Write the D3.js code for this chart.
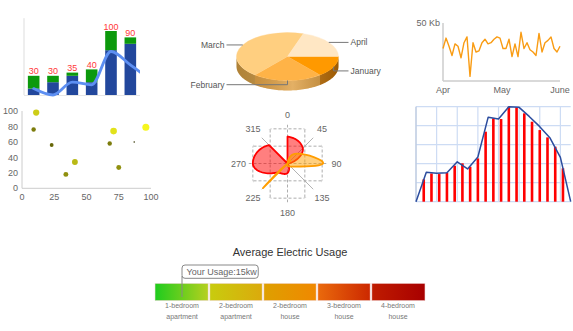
<!DOCTYPE html>
<html><head><meta charset="utf-8">
<script src="https://cdn.jsdelivr.net/npm/d3@7"></script>
<style>
html,body{margin:0;padding:0;background:#fff;}
svg{display:block;font-family:"Liberation Sans",Arial,Helvetica,sans-serif;}
</style></head><body>
<svg id="c" width="573" height="331"></svg>
<script>
// ================= DATA =================
// 1. stacked bars + line
const barCats = ["C1","C2","C3","C4","C5","C6"];
const barBlue = [10,20,30,20,70,80];
const barGreen = [20,10,5,20,30,10];
const barLineCats = ["C1","C2","C3","C4","C5","C6","C7"];
const barLine = [10,0,20,16,68,47,25];

// 2. 3D pie
const pieLabels = ["January","February","March","April"];
const pieValues = [14,22,44,20];
const pieColors = ["#ff9900","#ffb347","#ffcf80","#ffe7c4"];
const pieSideColors = ["#c06e02","#dc9a3a","#c8943e","#dcc08e"];

// 3. Kb line
const kbValues = [28,37,30,22,32,30,20,33,38,4,33,25,26,33,36,32,33,36,38,37,28,28,36,21,32,21,42,28,33,27,25,22,41,25,33,35,38,28,25,30];
const kbTickLabels = ["Apr","May","June"];
const kbTickIdx = [0,19.7,39];
const kbYTicks = [50];

// 4. bubble scatter
const scX = [11,9,23,34,41,68,71,75,87,96];
const scY = [98,76,56,18,34,58,74,27,60,79];
const scZ = [8,4,3,5,7,4,9,5,0.5,10];
const scTicksX = [0,25,50,75,100];
const scTicksY = [0,20,40,60,80,100];

// 5. polar
const polarAngles = [0,45,90,135,180,225,270,315];
const polarRed = [31,25,0,0,11,15,40,30];
const polarOrange = [0,16,41,5,0,40,0,0];
const polarGrid = [-40,-20,0,20,40];

// 6. line + thin bars
const areaX = [0,1,2,3,4,5,6,7,8,9,10,11,12,13,14,15];
const areaLine = [0,31,30,30.5,42,34.5,47,89,87,100,99.3,89.5,79,67,46.7,0];
const thinX = [0.75,1.5,2.25,3,3.75,4.5,5.25,6,6.75,7.5,8.25,9,9.75,10.5,11.25,12,12.75,13.5,14.25];
const thinV = [23.5,29.8,29.1,30.5,37.9,40.4,36.8,45.6,73.7,87.7,87,100,99.3,93,84.2,75.4,67.7,57.9,35.1];
const areaGridX = [0,2,4,6,8,10,12,14];
const areaGridY = [0,20,40,60,80,100];

// 7. gauge
const gaugeTitle = "Average Electric Usage";
const gaugeBounds = [0,30,60,90,120,150];
const gaugeLabels1 = ["1-bedroom","2-bedroom","2-bedroom","3-bedroom","4-bedroom"];
const gaugeLabels2 = ["apartment","apartment","house","house","house"];
const gaugeGrad = [["#1ecc1e","#b6d01e"],["#c8cc0e","#dbaa0c"],["#dea000","#f08800"],["#ea6a0c","#cc2800"],["#bf1c00","#a80000"]];
const usage = 15;

// ================= DRAW =================
const svg = d3.select("#c");
const defs = svg.append("defs");
const TXT = "#666";

// ---------- 1. stacked bar ----------
(function(){
  const g = svg.append("g");
  const x = d3.scaleBand().domain(barCats).range([24,140]).paddingInner(0.4).paddingOuter(0.2);
  const y = d3.scaleLinear().domain([0,120]).range([95,18.2]);
  g.append("line").attr("x1",x.range()[0]).attr("x2",x.range()[0]).attr("y1",y(120)).attr("y2",y(0)).attr("stroke","#ddd");
  g.append("line").attr("x1",x.range()[0]).attr("x2",x.range()[1]).attr("y1",y(0)+0.5).attr("y2",y(0)+0.5).attr("stroke","#e6e6e6");
  barCats.forEach((c,i)=>{
    g.append("rect").attr("x",x(c)).attr("width",x.bandwidth()).attr("y",y(barBlue[i])).attr("height",y(0)-y(barBlue[i])).attr("fill","#22479c");
    g.append("rect").attr("x",x(c)).attr("width",x.bandwidth()).attr("y",y(barBlue[i]+barGreen[i])).attr("height",y(barBlue[i])-y(barBlue[i]+barGreen[i])).attr("fill","#0c990c");
    g.append("text").attr("x",x(c)+x.bandwidth()/2).attr("y",y(barBlue[i]+barGreen[i])-1.5)
      .attr("text-anchor","middle").attr("font-size",9).attr("fill","#ff3838").text(barBlue[i]+barGreen[i]);
  });
  defs.append("clipPath").attr("id","clip1").append("rect").attr("x",x.range()[0]).attr("y",0).attr("width",x.range()[1]-x.range()[0]).attr("height",y(0)+3);
  const c0 = x(barCats[0])+x.bandwidth()/2;
  const xp = d3.scalePoint().domain(barLineCats).range([c0, c0+x.step()*(barLineCats.length-1)]);
  g.append("path").attr("clip-path","url(#clip1)")
    .attr("d", d3.line().x((d,i)=>xp(barLineCats[i])).y(d=>y(d)).curve(d3.curveMonotoneX)(barLine))
    .attr("fill","none").attr("stroke","#5d8ff2").attr("stroke-width",2.8).attr("stroke-linecap","round");
})();

// ---------- 2. 3D pie ----------
(function(){
  const cx=287.5, cy=56.5, rx=51, ry=24, depth=10;
  const pie = d3.pie().sort(null).startAngle(Math.PI/2).endAngle(Math.PI/2+2*Math.PI);
  const arcs = pie(pieValues);
  const pt = (a,dy=0)=>[cx+rx*Math.sin(a), cy-ry*Math.cos(a)+dy];
  const sh = defs.append("linearGradient").attr("id","pieShade").attr("gradientUnits","userSpaceOnUse")
    .attr("x1",cx-rx).attr("x2",cx+rx).attr("y1",0).attr("y2",0);
  sh.append("stop").attr("offset",0).attr("stop-color","#000").attr("stop-opacity",0.12);
  sh.append("stop").attr("offset",0.55).attr("stop-color","#fff").attr("stop-opacity",0.22);
  sh.append("stop").attr("offset",1).attr("stop-color","#000").attr("stop-opacity",0.18);
  const g = svg.append("g");
  arcs.forEach((a,i)=>{
    const s=Math.max(a.startAngle,Math.PI/2), e=Math.min(a.endAngle,3*Math.PI/2);
    if(s>=e) return;
    const n=40, top=[], bot=[];
    for(let k=0;k<=n;k++){const t=s+(e-s)*k/n; top.push(pt(t)); bot.push(pt(t,depth));}
    const d = d3.line()(top.concat(bot.reverse()))+"Z";
    g.append("path").attr("d",d).attr("fill",pieSideColors[i]);
    g.append("path").attr("d",d).attr("fill","url(#pieShade)");
  });
  const arc = d3.arc().innerRadius(0).outerRadius(rx);
  const tg = g.append("g").attr("transform",`translate(${cx},${cy}) scale(1,${ry/rx})`);
  arcs.forEach((a,i)=>{
    tg.append("path").attr("d",arc(a)).attr("fill",pieColors[i]).attr("stroke",pieColors[i]).attr("stroke-width",0.5);
  });
  arcs.forEach((a,i)=>{
    const m=(a.startAngle+a.endAngle)/2;
    const [px,py]=pt(m);
    const right = Math.sin(m)>0;
    const ly = py + (Math.cos(m)<0 ? depth*0.42 : 0);
    const lx = right ? cx+rx+12 : cx-rx-12;
    g.append("path").attr("d",d3.line()([[px,py],[px,ly],[right?lx-2:lx+2,ly]]))
      .attr("fill","none").attr("stroke","#777").attr("stroke-width",1);
    g.append("text").attr("x",lx).attr("y",ly).attr("dy","0.35em").attr("text-anchor",right?"start":"end")
      .attr("font-size",8.5).attr("fill","#555").text(pieLabels[i]);
  });
})();

// ---------- 3. Kb line ----------
(function(){
  const g=svg.append("g");
  const x=d3.scaleLinear().domain([0,kbValues.length-1]).range([443,560]);
  const y=d3.scaleLinear().domain([0,50]).range([81,23]);
  g.append("line").attr("x1",x(0)).attr("x2",x(0)).attr("y1",y(50)).attr("y2",y(0)).attr("stroke","#ccc").attr("stroke-width",1.5);
  g.append("line").attr("x1",x(0)).attr("x2",x(kbValues.length-1)).attr("y1",y(0)).attr("y2",y(0)).attr("stroke","#ccc").attr("stroke-width",1.5);
  kbYTicks.forEach(t=>g.append("text").attr("x",x(0)-3).attr("y",y(t)).attr("dy","0.3em").attr("text-anchor","end")
     .attr("font-size",9).attr("fill",TXT).text(t+" Kb"));
  kbTickLabels.forEach((t,i)=>g.append("text").attr("x",x(kbTickIdx[i])).attr("y",y(0)+12).attr("text-anchor","middle")
     .attr("font-size",9).attr("fill",TXT).text(t));
  g.append("path").attr("d",d3.line().x((d,i)=>x(i)).y(d=>y(d))(kbValues))
    .attr("fill","none").attr("stroke","#f99c14").attr("stroke-width",1.4).attr("stroke-linejoin","round");
})();

// ---------- 4. bubble scatter ----------
(function(){
  const g=svg.append("g");
  const x=d3.scaleLinear().domain([0,100]).range([22,151]);
  const y=d3.scaleLinear().domain([0,100]).range([188.3,111]);
  const r=d3.scaleSqrt().domain([0,10]).range([0,3.5]);
  const col=d3.scaleLinear().domain([0,10]).range(["#2a2a00","#f6f61e"]);
  g.append("line").attr("x1",x(0)).attr("x2",x(0)).attr("y1",y(100)).attr("y2",y(0)).attr("stroke","#ccc");
  g.append("line").attr("x1",x(0)).attr("x2",x(100)).attr("y1",y(0)).attr("y2",y(0)).attr("stroke","#ccc");
  scTicksY.forEach(t=>g.append("text").attr("x",x(0)-4).attr("y",y(t)).attr("dy","0.35em").attr("text-anchor","end")
     .attr("font-size",9).attr("fill",TXT).text(t));
  scTicksX.forEach(t=>g.append("text").attr("x",x(t)).attr("y",y(0)+11.5).attr("text-anchor","middle")
     .attr("font-size",9).attr("fill",TXT).text(t));
  scX.forEach((v,i)=>g.append("circle").attr("cx",x(v)).attr("cy",y(scY[i])).attr("r",r(scZ[i])).attr("fill",col(scZ[i])));
})();

// ---------- 5. polar ----------
(function(){
  const cx=287.5, cy=163.5;
  const r=d3.scaleLinear().domain([0,45]).range([0,39]);
  const g=svg.append("g").attr("transform",`translate(${cx},${cy})`);
  defs.append("clipPath").attr("id","clipP").append("circle").attr("cx",0).attr("cy",0).attr("r",r(45));
  const gg=g.append("g").attr("clip-path","url(#clipP)");
  polarGrid.forEach(v=>{
    gg.append("line").attr("x1",r(v)).attr("x2",r(v)).attr("y1",-r(45)).attr("y2",r(45))
      .attr("stroke","#999").attr("stroke-dasharray","3,2").attr("stroke-width",0.8);
    gg.append("line").attr("y1",r(v)).attr("y2",r(v)).attr("x1",-r(45)).attr("x2",r(45))
      .attr("stroke","#999").attr("stroke-dasharray","3,2").attr("stroke-width",0.8);
  });
  [45,135,225,315].forEach(a=>{
    const t=a*Math.PI/180;
    g.append("line").attr("x1",0).attr("y1",0).attr("x2",r(42)*Math.sin(t)).attr("y2",-r(42)*Math.cos(t))
      .attr("stroke","#aaa").attr("stroke-width",0.9);
  });
  function monoSlopes(xs, ys){
    const n=xs.length, h=[], s=[], m=new Array(n);
    for(let i=0;i<n-1;i++){h[i]=xs[i+1]-xs[i]; s[i]=(ys[i+1]-ys[i])/h[i];}
    for(let i=1;i<n-1;i++){
      const p=(s[i-1]*h[i]+s[i]*h[i-1])/(h[i-1]+h[i]);
      m[i]=(Math.sign(s[i-1])+Math.sign(s[i]))*Math.min(Math.abs(s[i-1]),Math.abs(s[i]),0.5*Math.abs(p))||0;
    }
    m[0]=(3*s[0]-m[1])/2; m[n-1]=(3*s[n-2]-m[n-2])/2;
    return {h,m};
  }
  function polarSmoothPath(vals){
    const xs=polarAngles, ys=vals.map(v=>r(v));
    const {h,m}=monoSlopes(xs,ys);
    const pts=[[0,0]];
    for(let i=0;i<xs.length-1;i++){
      for(let k=0;k<(i===xs.length-2?25:24);k++){
        const t=k/24, t2=t*t, t3=t2*t;
        const rr=Math.max(0,(2*t3-3*t2+1)*ys[i]+(t3-2*t2+t)*h[i]*m[i]+(-2*t3+3*t2)*ys[i+1]+(t3-t2)*h[i]*m[i+1]);
        const a=(xs[i]+t*h[i])*Math.PI/180;
        pts.push([rr*Math.sin(a),-rr*Math.cos(a)]);
      }
    }
    return d3.line()(pts)+"Z";
  }
  g.append("path").attr("d",polarSmoothPath(polarRed)).attr("fill","rgba(255,0,0,0.5)").attr("stroke","#ff0000").attr("stroke-width",1.8).attr("stroke-linejoin","round");
  const area=d3.areaRadial().angle((d,i)=>polarAngles[i]*Math.PI/180).innerRadius(0).outerRadius(d=>r(d)).curve(d3.curveCardinal.tension(-0.6));
  g.append("path").attr("d",area(polarOrange)).attr("fill","rgba(255,160,0,0.5)").attr("stroke","#ff9d00").attr("stroke-width",1.8).attr("stroke-linejoin","round");
  polarAngles.forEach(a=>{
    const t=a*Math.PI/180;
    g.append("text").attr("x",r(56.5)*Math.sin(t)).attr("y",-r(56.5)*Math.cos(t)).attr("dy","0.35em")
      .attr("text-anchor","middle").attr("font-size",9).attr("fill",TXT).text(a);
  });
})();

// ---------- 6. line + thin bars ----------
(function(){
  const g=svg.append("g");
  const x=d3.scaleLinear().domain([0,15]).range([416,570.7]);
  const y=d3.scaleLinear().domain([0,100]).range([201.7,106.7]);
  areaGridX.forEach(v=>g.append("line").attr("x1",x(v)).attr("x2",x(v)).attr("y1",y(100)).attr("y2",y(0)).attr("stroke","#cddcf4").attr("stroke-width",1.2));
  areaGridY.forEach(v=>g.append("line").attr("x1",x(0)).attr("x2",x(15)).attr("y1",y(v)).attr("y2",y(v)).attr("stroke","#cddcf4").attr("stroke-width",1.2));
  g.append("line").attr("x1",x(0)).attr("x2",x(0)).attr("y1",y(100)).attr("y2",y(0)).attr("stroke","#b8c4d8").attr("stroke-width",1);
  thinX.forEach((v,i)=>g.append("rect").attr("x",x(v)-1.3).attr("width",2.6).attr("y",y(thinV[i])).attr("height",y(0)-y(thinV[i])).attr("fill","#ff0000"));
  g.append("path").attr("d",d3.line().x((d,i)=>x(areaX[i])).y(d=>y(d))(areaLine))
    .attr("fill","none").attr("stroke","#2b4c9e").attr("stroke-width",1.5).attr("stroke-linejoin","round");
})();

// ---------- 7. gauge ----------
(function(){
  const g=svg.append("g");
  const x=d3.scaleLinear().domain([0,150]).range([155,425]);
  const top=283.3, h=17.4;
  g.append("text").attr("x",(x(0)+x(150))/2).attr("y",255.5).attr("text-anchor","middle").attr("font-size",11).attr("fill","#333").text(gaugeTitle);
  gaugeLabels1.forEach((l,i)=>{
    const gr=defs.append("linearGradient").attr("id","gg"+i);
    gr.append("stop").attr("offset",0).attr("stop-color",gaugeGrad[i][0]);
    gr.append("stop").attr("offset",1).attr("stop-color",gaugeGrad[i][1]);
    const x0=x(gaugeBounds[i])+(i>0?0.85:0), x1=x(gaugeBounds[i+1])-(i<4?0.85:0);
    g.append("rect").attr("x",x0).attr("y",top).attr("width",x1-x0).attr("height",h).attr("fill",`url(#gg${i})`)
      .attr("stroke","#f4dede").attr("stroke-width",0.6);
    const mx=(x(gaugeBounds[i])+x(gaugeBounds[i+1]))/2;
    g.append("text").attr("x",mx).attr("y",307.5).attr("text-anchor","middle").attr("font-size",7).attr("fill","#777").text(l);
    g.append("text").attr("x",mx).attr("y",318.5).attr("text-anchor","middle").attr("font-size",7).attr("fill","#777").text(gaugeLabels2[i]);
  });
  const ux=x(usage);
  g.append("line").attr("x1",ux).attr("x2",ux).attr("y1",276).attr("y2",297).attr("stroke","#888").attr("stroke-width",1);
  const t=g.append("text").attr("x",ux+4.5).attr("y",274.6).attr("font-size",9).attr("fill","#666").text("Your Usage:"+usage+"kw");
  const w=t.node().getComputedTextLength();
  g.insert("rect","text").attr("x",ux).attr("y",265).attr("width",w+6).attr("height",13.3).attr("rx",3)
    .attr("fill","#fff").attr("stroke","#888").attr("stroke-width",1);
})();
</script>
</body></html>
